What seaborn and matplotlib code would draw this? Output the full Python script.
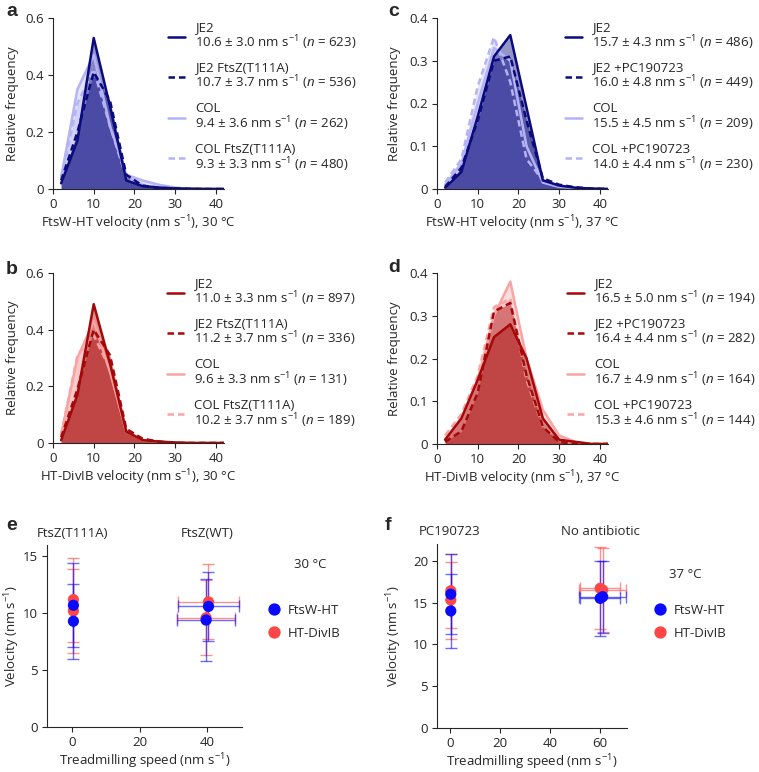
import matplotlib
matplotlib.use("Agg")
import matplotlib.pyplot as plt
import numpy as np
import pandas as pd
import seaborn as sns

# Histogram bin centres (nm/s)
bins = [2, 6, 10, 14, 18, 22, 26, 30, 34, 38, 42]

# Panel a: FtsW-HT, 30 C
a_je2 = [0.02, 0.17, 0.53, 0.29, 0.03, 0.01, 0.005, 0.002, 0.001, 0, 0]
a_je2_t111a = [0.03, 0.20, 0.41, 0.31, 0.05, 0.012, 0.004, 0.002, 0, 0, 0]
a_col = [0.04, 0.35, 0.47, 0.22, 0.05, 0.03, 0.015, 0.005, 0, 0, 0]
a_col_t111a = [0.04, 0.30, 0.42, 0.22, 0.04, 0.015, 0.006, 0.002, 0, 0, 0]

# Panel b: HT-DivIB, 30 C
b_je2 = [0.01, 0.17, 0.49, 0.28, 0.04, 0.01, 0.005, 0.002, 0, 0, 0]
b_je2_t111a = [0.02, 0.19, 0.40, 0.31, 0.05, 0.015, 0.005, 0, 0, 0, 0]
b_col = [0.03, 0.30, 0.43, 0.25, 0.04, 0.01, 0.005, 0, 0, 0, 0]
b_col_t111a = [0.03, 0.31, 0.38, 0.26, 0.04, 0.015, 0.004, 0, 0, 0, 0]

# Panel c: FtsW-HT, 37 C
c_je2 = [0.003, 0.04, 0.17, 0.31, 0.36, 0.19, 0.02, 0.008, 0.003, 0.001, 0]
c_je2_pc = [0.005, 0.05, 0.16, 0.30, 0.31, 0.16, 0.025, 0.01, 0.004, 0.001, 0]
c_col = [0.01, 0.06, 0.20, 0.33, 0.30, 0.10, 0.015, 0.005, 0.002, 0, 0]
c_col_pc = [0.015, 0.07, 0.24, 0.355, 0.25, 0.07, 0.02, 0.008, 0.002, 0, 0]

# Panel d: HT-DivIB, 37 C
d_je2 = [0.01, 0.06, 0.15, 0.25, 0.28, 0.20, 0.06, 0.01, 0.005, 0, 0]
d_je2_pc = [0.005, 0.03, 0.12, 0.31, 0.33, 0.16, 0.04, 0.005, 0, 0, 0]
d_col = [0.01, 0.06, 0.15, 0.30, 0.38, 0.20, 0.08, 0.02, 0.005, 0, 0]
d_col_pc = [0.02, 0.07, 0.16, 0.32, 0.34, 0.15, 0.04, 0.01, 0, 0, 0]

a_labels = ["JE2\n10.6 ± 3.0 nm s$^{-1}$ ($\\mathit{n}$ = 623)",
            "JE2 FtsZ(T111A)\n10.7 ± 3.7 nm s$^{-1}$ ($\\mathit{n}$ = 536)",
            "COL\n9.4 ± 3.6 nm s$^{-1}$ ($\\mathit{n}$ = 262)",
            "COL FtsZ(T111A)\n9.3 ± 3.3 nm s$^{-1}$ ($\\mathit{n}$ = 480)"]
b_labels = ["JE2\n11.0 ± 3.3 nm s$^{-1}$ ($\\mathit{n}$ = 897)",
            "JE2 FtsZ(T111A)\n11.2 ± 3.7 nm s$^{-1}$ ($\\mathit{n}$ = 336)",
            "COL\n9.6 ± 3.3 nm s$^{-1}$ ($\\mathit{n}$ = 131)",
            "COL FtsZ(T111A)\n10.2 ± 3.7 nm s$^{-1}$ ($\\mathit{n}$ = 189)"]
c_labels = ["JE2\n15.7 ± 4.3 nm s$^{-1}$ ($\\mathit{n}$ = 486)",
            "JE2 +PC190723\n16.0 ± 4.8 nm s$^{-1}$ ($\\mathit{n}$ = 449)",
            "COL\n15.5 ± 4.5 nm s$^{-1}$ ($\\mathit{n}$ = 209)",
            "COL +PC190723\n14.0 ± 4.4 nm s$^{-1}$ ($\\mathit{n}$ = 230)"]
d_labels = ["JE2\n16.5 ± 5.0 nm s$^{-1}$ ($\\mathit{n}$ = 194)",
            "JE2 +PC190723\n16.4 ± 4.4 nm s$^{-1}$ ($\\mathit{n}$ = 282)",
            "COL\n16.7 ± 4.9 nm s$^{-1}$ ($\\mathit{n}$ = 164)",
            "COL +PC190723\n15.3 ± 4.6 nm s$^{-1}$ ($\\mathit{n}$ = 144)"]

# Panel e: mean velocity vs treadmilling speed, 30 C
e_protein = ["FtsW-HT", "FtsW-HT", "FtsW-HT", "FtsW-HT",
             "HT-DivIB", "HT-DivIB", "HT-DivIB", "HT-DivIB"]
e_speed = [0.4, 0.4, 40.3, 39.6, 0.4, 0.4, 40.3, 39.6]
e_speed_err = [0, 0, 9.0, 8.5, 0, 0, 9.0, 8.5]
e_vel = [10.7, 9.3, 10.6, 9.4, 11.2, 10.2, 11.0, 9.6]
e_vel_err = [3.7, 3.3, 3.0, 3.6, 3.7, 3.7, 3.3, 3.3]

# Panel f: mean velocity vs treadmilling speed, 37 C
f_protein = ["FtsW-HT", "FtsW-HT", "FtsW-HT", "FtsW-HT",
             "HT-DivIB", "HT-DivIB", "HT-DivIB", "HT-DivIB"]
f_speed = [0.4, 0.4, 61.0, 60.0, 0.4, 0.4, 61.0, 60.0]
f_speed_err = [0, 0, 9.5, 8.0, 0, 0, 9.5, 8.0]
f_vel = [16.0, 14.0, 15.7, 15.5, 16.4, 15.3, 16.5, 16.7]
f_vel_err = [4.8, 4.4, 4.3, 4.5, 4.4, 4.6, 5.0, 4.9]

FS = 9.5
sns.set_theme(style="ticks")
plt.rcParams["font.family"] = ["Open Sans", "DejaVu Sans"]
plt.rcParams["mathtext.fontset"] = "custom"
plt.rcParams["mathtext.rm"] = "Open Sans"
plt.rcParams["mathtext.it"] = "Open Sans:italic"
plt.rcParams["font.size"] = FS
plt.rcParams["axes.labelsize"] = FS
plt.rcParams["xtick.labelsize"] = FS
plt.rcParams["ytick.labelsize"] = FS
plt.rcParams["axes.linewidth"] = 0.8
plt.rcParams["xtick.major.width"] = 0.8
plt.rcParams["ytick.major.width"] = 0.8
plt.rcParams["xtick.major.size"] = 3.5
plt.rcParams["ytick.major.size"] = 3.5
plt.rcParams["xtick.major.pad"] = 3
plt.rcParams["ytick.major.pad"] = 3

W, H = 759, 772
fig = plt.figure(figsize=(W / 100, H / 100), dpi=100)


def add_axes(left, top, right, bottom):
    # pixel box -> figure fraction
    return fig.add_axes([left / W, 1 - bottom / H, (right - left) / W, (bottom - top) / H])


BLUE_DARK, BLUE_LIGHT = "#0b0b7e", "#b3b3f5"
RED_DARK, RED_LIGHT = "#a50808", "#f9a3a3"
DASH = (0, (2.6, 1.6))


def histo(ax, series, labels, dark, light, yticks, ymax, xlabel, leg_xy, ylab_x):
    styles = [(dark, "-"), (dark, DASH), (light, "-"), (light, DASH)]
    # light ones first so dark sits on top
    order = [2, 3, 0, 1]
    for i in order:
        col, ls = styles[i]
        ax.fill_between(bins, series[i], color=col, alpha=0.43 if col == dark else 0.35, lw=0)
    for i in order:
        col, ls = styles[i]
        sns.lineplot(x=bins, y=series[i], ax=ax, color=col, linestyle=ls, lw=1.8,
                     label=labels[i])
    ax.set_xlim(0, 42)
    ax.set_ylim(0, ymax)
    ax.set_xticks([0, 10, 20, 30, 40])
    ax.set_yticks(yticks)
    ax.set_yticklabels(["0"] + [f"{t:g}" for t in yticks[1:]])
    ax.set_xlabel(xlabel, labelpad=2)
    ax.set_ylabel("Relative frequency")
    ax.yaxis.set_label_coords(ylab_x, 0.5)
    sns.despine(ax=ax)
    h, l = ax.get_legend_handles_labels()
    idx = [l.index(x) for x in labels]
    leg = ax.legend([h[i] for i in idx], labels, loc="upper left",
                    bbox_to_anchor=(leg_xy[0] / W, 1 - leg_xy[1] / H),
                    bbox_transform=fig.transFigure, frameon=False, borderpad=0,
                    borderaxespad=0, handlelength=1.3, handletextpad=0.75,
                    labelspacing=0.73, fontsize=FS)
    for t in leg.get_texts():
        t.set_linespacing(0.95)


ax_a = add_axes(53, 18, 224, 189)
histo(ax_a, [a_je2, a_je2_t111a, a_col, a_col_t111a], a_labels, BLUE_DARK, BLUE_LIGHT,
      [0, 0.2, 0.4, 0.6], 0.6, "FtsW-HT velocity (nm s$^{-1}$), 30 °C", (168, 21), -0.2)

ax_b = add_axes(53, 273, 224, 443)
histo(ax_b, [b_je2, b_je2_t111a, b_col, b_col_t111a], b_labels, RED_DARK, RED_LIGHT,
      [0, 0.2, 0.4, 0.6], 0.6, "HT-DivIB velocity (nm s$^{-1}$), 30 °C", (167, 277), -0.2)

ax_c = add_axes(437, 18, 608, 189)
histo(ax_c, [c_je2, c_je2_pc, c_col, c_col_pc], c_labels, BLUE_DARK, BLUE_LIGHT,
      [0, 0.1, 0.2, 0.3, 0.4], 0.4, "FtsW-HT velocity (nm s$^{-1}$), 37 °C", (565, 21), -0.21)

ax_d = add_axes(437, 273, 608, 444)
histo(ax_d, [d_je2, d_je2_pc, d_col, d_col_pc], d_labels, RED_DARK, RED_LIGHT,
      [0, 0.1, 0.2, 0.3, 0.4], 0.4, "HT-DivIB velocity (nm s$^{-1}$), 37 °C", (567, 277), -0.21)

PAL = {"FtsW-HT": "#0a0aff", "HT-DivIB": "#ff4646"}


def speed_plot(ax, protein, speed, speed_err, vel, vel_err, xlim, xticks, ylim, yticks,
               groups, temp, temp_xy, leg_xy, ylab_x):
    df = pd.DataFrame({"protein": protein, "speed": speed, "speed_err": speed_err,
                       "vel": vel, "vel_err": vel_err})
    for name in ["HT-DivIB", "FtsW-HT"]:
        sub = df[df.protein == name]
        ax.errorbar(sub.speed, sub.vel, xerr=sub.speed_err, yerr=sub.vel_err, fmt="none",
                    ecolor=PAL[name], alpha=0.6, elinewidth=1.0, capsize=4, capthick=1.0)
    sns.scatterplot(data=df.iloc[::-1], x="speed", y="vel", hue="protein", palette=PAL,
                    hue_order=["FtsW-HT", "HT-DivIB"], s=65, linewidth=0, ax=ax,
                    zorder=5)
    ax.set_xlim(*xlim)
    ax.set_ylim(*ylim)
    ax.set_xticks(xticks)
    ax.set_yticks(yticks)
    ax.set_xlabel("Treadmilling speed (nm s$^{-1}$)", labelpad=2)
    ax.set_ylabel("Velocity (nm s$^{-1}$)")
    ax.yaxis.set_label_coords(ylab_x, 0.5)
    sns.despine(ax=ax)
    for gx, gname in groups:
        ax.text(gx, 1.03, gname, transform=ax.get_xaxis_transform(), ha="center",
                va="bottom", fontsize=FS)
    fig.text(temp_xy[0] / W, 1 - temp_xy[1] / H, temp, ha="left", va="center", fontsize=FS)
    ax.legend(loc="upper left", bbox_to_anchor=(leg_xy[0] / W, 1 - leg_xy[1] / H),
              bbox_transform=fig.transFigure, frameon=False, borderpad=0, borderaxespad=0,
              title=None, handletextpad=0.0, labelspacing=0.75, fontsize=FS, markerscale=1.1)


ax_e = add_axes(47, 545, 242, 727)
speed_plot(ax_e, e_protein, e_speed, e_speed_err, e_vel, e_vel_err, (-7.4, 50.2), [0, 20, 40],
           (0, 16), [0, 5, 10, 15], [(0, "FtsZ(T111A)"), (40, "FtsZ(WT)")],
           "30 °C", (294, 565), (261, 604), -0.13)

ax_f = add_axes(437, 544, 627, 728)
speed_plot(ax_f, f_protein, f_speed, f_speed_err, f_vel, f_vel_err, (-5.1, 70.7), [0, 20, 40, 60],
           (0, 22), [0, 5, 10, 15, 20], [(0, "PC190723"), (60, "No antibiotic")],
           "37 °C", (669, 575), (647, 604), -0.175)

for letter, (x, y) in {"a": (6, 12), "b": (6, 270), "c": (388, 12), "d": (388, 267),
                       "e": (6, 526), "f": (385, 525)}.items():
    fig.text(x / W, 1 - y / H, letter, fontsize=14, fontweight="bold",
             family="Liberation Sans", ha="left", va="center")

fig.savefig("out.png", dpi=100)
